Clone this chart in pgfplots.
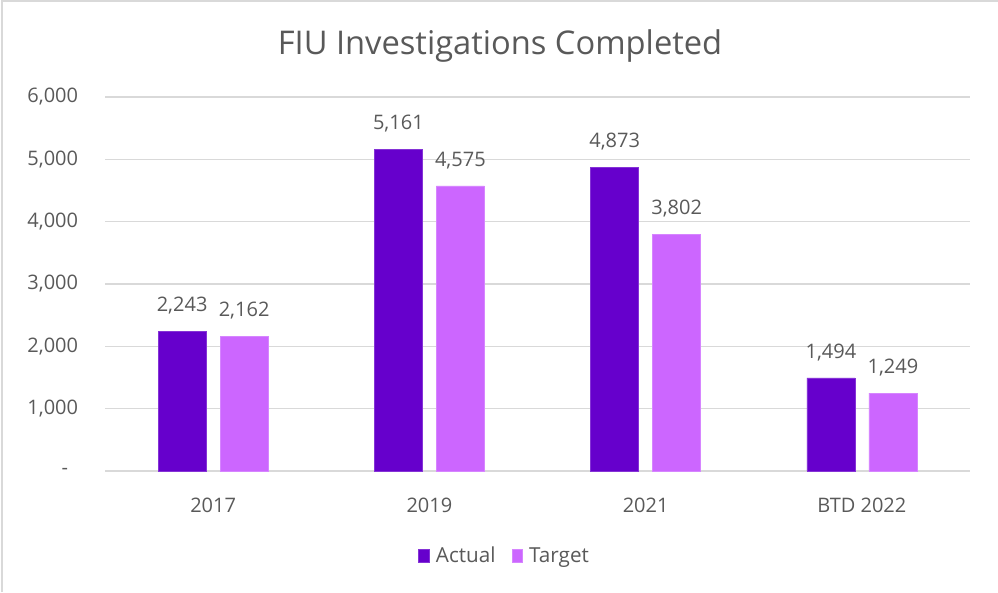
\documentclass[border=0pt]{standalone}
\usepackage{pgfplots}
\pgfplotsset{compat=1.18}
\usepackage{fontspec}
\setmainfont{Open Sans}
\definecolor{actualc}{HTML}{6600CC}
\definecolor{targetc}{HTML}{CC66FF}
\definecolor{txt}{HTML}{595959}
\definecolor{gridc}{HTML}{D9D9D9}
\begin{document}
\begin{tikzpicture}
\useasboundingbox (0,0) rectangle (748.5pt,444pt);
\draw[gridc, line width=1.5pt] (1.5pt,0) -- (1.5pt,443.25pt) -- (748.5pt,443.25pt);
\node[text=txt, font=\fontsize{24.5}{28}\selectfont] at (375pt,409.5pt) {FIU Investigations Completed};
\begin{axis}[
  at={(78.75pt,90.75pt)}, anchor=south west,
  scale only axis, width=648.75pt, height=280.5pt,
  xmin=-0.5, xmax=3.5, ymin=0, ymax=6000,
  xtick={0,1,2,3}, xticklabels={2017,2019,2021,BTD 2022},
  ytick={0,1000,2000,3000,4000,5000,6000},
  yticklabels={{-\rule{7.5pt}{0pt}},{1,000},{2,000},{3,000},{4,000},{5,000},{6,000}},
  axis line style={draw=none},
  tick style={draw=none},
  ymajorgrids, grid style={gridc, line width=0.9pt},
  ticklabel style={text=txt, font=\fontsize{15}{18}\selectfont},
  yticklabel style={anchor=east, inner sep=0pt, xshift=-20pt},
  xticklabel style={anchor=north, inner sep=0pt, yshift=-15.5pt},
  ybar, bar width=36pt,
  nodes near coords,
  every node near coord/.append style={text=txt, font=\fontsize{15}{18}\selectfont, anchor=base, inner sep=0pt, yshift=14.5pt},
  /pgf/number format/.cd, fixed, precision=0, 1000 sep={,}, assume math mode=true,
  /pgfplots/.cd,
  legend style={at={(0.4624,-0.227)}, anchor=center, draw=none, legend columns=2,
    font=\fontsize{15.5}{18}\selectfont, text=txt,
    /tikz/every even column/.style={column sep=10pt}},
  legend image code/.code={\fill[#1] (0pt,-5pt) rectangle (8pt,5pt); \path[draw=none,fill=none] (0pt,0pt) -- (11pt,0pt);},
]
\addplot[fill=actualc, draw=actualc!80!white, bar shift=-23.25pt] coordinates {(0,2243) (1,5161) (2,4873) (3,1494)};
\addplot[fill=targetc, draw=targetc!80!white, bar shift=23.25pt] coordinates {(0,2162) (1,4575) (2,3802) (3,1249)};
\legend{Actual,Target}
\end{axis}
\end{tikzpicture}
\end{document}
